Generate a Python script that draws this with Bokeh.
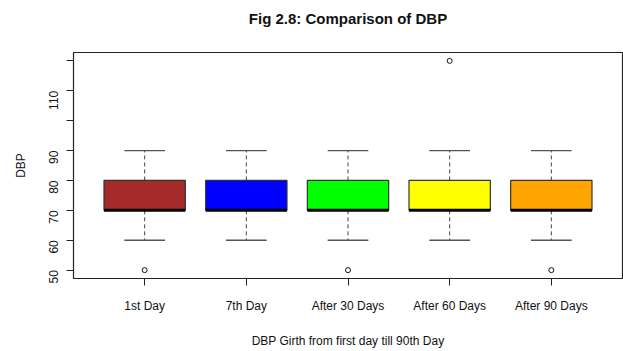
import math
from bokeh.plotting import figure
from bokeh.models import FixedTicker, Range1d, ColumnDataSource, Title
from bokeh.embed import file_html
from bokeh.resources import INLINE

# ---- data ----
title_text = "Fig 2.8: Comparison of DBP"
days = ["1st Day", "7th Day", "After 30 Days", "After 60 Days", "After 90 Days"]
whisker_low = [60, 60, 60, 60, 60]
q1 = [70, 70, 70, 70, 70]
median = [70, 70, 70, 70, 70]
q3 = [80, 80, 80, 80, 80]
whisker_high = [90, 90, 90, 90, 90]
box_colors = ["#A52A2A", "#0000FF", "#00FF00", "#FFFF00", "#FFA500"]
outlier_day = ["1st Day", "After 30 Days", "After 60 Days", "After 90 Days"]
outlier_dbp = [50, 50, 120, 50]
y_ticks = [50, 60, 70, 80, 90, 100, 110, 120]
y_hidden_labels = [100, 120]

FONT = "Liberation Sans"

xs = [i + 1 for i in range(len(days))]
pos = {d: i + 1 for i, d in enumerate(days)}
box_w = 0.8
cap_w = 0.4

src = ColumnDataSource(dict(
    x=xs, lo=whisker_low, q1=q1, med=median, q3=q3, hi=whisker_high, color=box_colors,
    bx0=[x - box_w / 2 for x in xs], bx1=[x + box_w / 2 for x in xs],
    cx0=[x - cap_w / 2 for x in xs], cx1=[x + cap_w / 2 for x in xs],
))

p = figure(width=623, height=351,
           x_range=Range1d(0.3, 5.7), y_range=Range1d(47.2, 122.8),
           output_backend="svg", toolbar_location=None,
           min_border_left=73, min_border_right=1, min_border_top=52, min_border_bottom=73)

p.title.text = title_text
p.title.align = "center"
p.title.offset = 1
p.title.text_font = FONT
p.title.text_font_size = "15px"
p.title.text_font_style = "bold"
p.title.text_color = "#111111"
p.title.standoff = 15
# empty spacer between title and frame
p.add_layout(Title(text=" ", text_font=FONT, text_font_size="12px", standoff=2), "above")

p.xgrid.visible = False
p.ygrid.visible = False
p.outline_line_color = "#222222"
p.outline_line_width = 1.2
p.background_fill_color = "white"
p.border_fill_color = "white"

# whiskers (dashed)
p.segment(x0="x", y0="q3", x1="x", y1="hi", source=src, line_color="#444444", line_dash="4 3", line_width=1)
p.segment(x0="x", y0="q1", x1="x", y1="lo", source=src, line_color="#444444", line_dash="4 3", line_width=1)
# caps
p.segment(x0="cx0", y0="hi", x1="cx1", y1="hi", source=src, line_color="#555555", line_width=1.3)
p.segment(x0="cx0", y0="lo", x1="cx1", y1="lo", source=src, line_color="#555555", line_width=1.3)
# boxes
p.vbar(x="x", width=box_w, bottom="q1", top="q3", source=src, fill_color="color",
       line_color="#333333", line_width=1.2)
# medians
p.segment(x0="bx0", y0="med", x1="bx1", y1="med", source=src, line_color="black", line_width=3)
# outliers
p.scatter(x=[pos[d] for d in outlier_day], y=outlier_dbp, marker="circle", size=5,
          fill_color=None, line_color="#111111", line_width=1)

# x axis
xa = p.xaxis[0]
xa.ticker = FixedTicker(ticks=xs)
xa.major_label_overrides = {x: d for x, d in zip(xs, days)}
xa.axis_label = "DBP Girth from first day till 90th Day"

# y axis
ya = p.yaxis[0]
ya.ticker = FixedTicker(ticks=y_ticks)
ya.major_label_overrides = {t: "" for t in y_hidden_labels}
ya.major_label_orientation = math.pi / 2
ya.axis_label = "DBP"

for ax in (xa, ya):
    ax.axis_line_color = None
    ax.major_tick_in = 0
    ax.major_tick_out = 7
    ax.major_tick_line_color = "#222222"
    ax.minor_tick_line_color = None
    ax.major_label_text_font = FONT
    ax.major_label_text_font_size = "12px"
    ax.major_label_text_color = "#111111"
    ax.axis_label_text_font = FONT
    ax.axis_label_text_font_size = "12px"
    ax.axis_label_text_font_style = "normal"
    ax.axis_label_text_color = "#111111"

xa.major_label_standoff = 13
xa.axis_label_standoff = 18
ya.major_label_standoff = 13
ya.axis_label_standoff = 14

open("out.html", "w").write(file_html(p, INLINE))
